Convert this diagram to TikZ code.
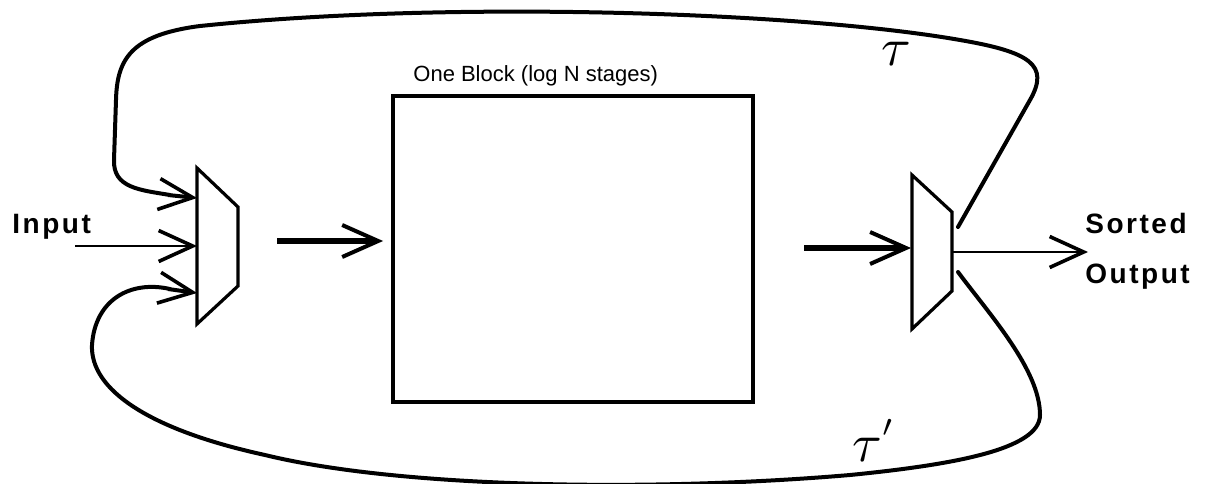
\documentclass[tikz,border=0pt]{standalone}
\usepackage{fontspec}
\setmainfont{Liberation Sans}
\usetikzlibrary{arrows.meta}
\begin{document}
\begin{tikzpicture}[x=0.5pt,y=-0.5pt,
  loopwire/.style={line width=2pt,line cap=round},
  muxline/.style={line width=1.6pt,line join=miter},
  thinarrow/.style={line width=1.4pt,-{Straight Barb[length=17pt,width=15.5pt,line width=1.8pt]}},
  thickarrow/.style={line width=2.6pt,-{Straight Barb[length=18pt,width=16pt,line width=2pt]}},
  biglabel/.style={font=\fontsize{14}{16}\selectfont\bfseries\addfontfeature{LetterSpace=9},inner sep=0pt},
  titlelabel/.style={font=\fontsize{11}{13}\selectfont,inner sep=0pt},
  taulabel/.style={scale=2.7,inner sep=0pt}]
\useasboundingbox (0,0) rectangle (1217,483);

% block
\node[draw,line width=1.9pt,minimum width=180pt,minimum height=153pt,inner sep=0pt] (block) at (573,249) {};
\node[titlelabel,anchor=base west] (title) at (413,81) {One Block (log N stages)};

% left mux
\coordinate (lm1) at (197,168);
\coordinate (lm2) at (238,207);
\coordinate (lm3) at (238,286);
\coordinate (lm4) at (197,324);
\draw[muxline] (lm1) -- (lm2) -- (lm3) -- (lm4) -- cycle;
\coordinate (lmA) at (197,198);
\coordinate (lmB) at (197,246);
\coordinate (lmC) at (197,293);
\coordinate (lmOut) at (277,241);

% right mux
\coordinate (rm1) at (912,175);
\coordinate (rm2) at (952,212);
\coordinate (rm3) at (952,291);
\coordinate (rm4) at (912,329);
\draw[muxline] (rm1) -- (rm2) -- (rm3) -- (rm4) -- cycle;
\coordinate (rmIn) at (911,248);
\coordinate (rmTop) at (958,227);
\coordinate (rmBot) at (958,272);
\coordinate (rmOut) at (953,252);
\coordinate (outTip) at (1088,252);
\coordinate (blockOut) at (804,248);

% labels
\node[biglabel,anchor=base west] (input) at (12,233) {Input};
\node[biglabel,anchor=base west] (sorted) at (1085,233) {Sorted};
\node[biglabel,anchor=base west] (output) at (1085,283) {Output};
\node[taulabel] (tau) at (896,54) {$\tau$};
\node[taulabel] (tau2) at (867,450) {$\tau$};
\node[scale=2.2,inner sep=0pt] (prime) at (889,436) {$'$};

% input arrow
\coordinate (inStart) at (75,246);
\draw[thinarrow] (inStart) -- (lmB);

% arrows into and out of block
\draw[thickarrow] (lmOut) -- ([xshift=-4pt]block.west |- lmOut);
\draw[thickarrow] (blockOut) -- (rmIn);

% output
\draw[thinarrow] (rmOut) -- (outTip);

% top feedback loop
\draw[loopwire] (rmTop) -- (1030,100) .. controls (1050,65) and (1030,52) .. (960,40)
  .. controls (800,12) and (450,0) .. (200,26)
  .. controls (130,35) and (117,60) .. (116,100) -- (114,160)
  .. controls (113,188) and (140,190) .. (170,195);
\draw[thinarrow,line width=2pt] (168,195) -- (lmA);

% bottom feedback loop
\draw[loopwire] (rmBot) .. controls (990,315) and (1040,370) .. (1040,415)
  .. controls (1040,450) and (950,465) .. (850,475)
  .. controls (650,492) and (400,488) .. (265,455)
  .. controls (150,430) and (90,390) .. (92,345)
  .. controls (95,300) and (130,280) .. (170,289);
\draw[thinarrow,line width=2pt] (168,289) -- (lmC);
\end{tikzpicture}
\end{document}
